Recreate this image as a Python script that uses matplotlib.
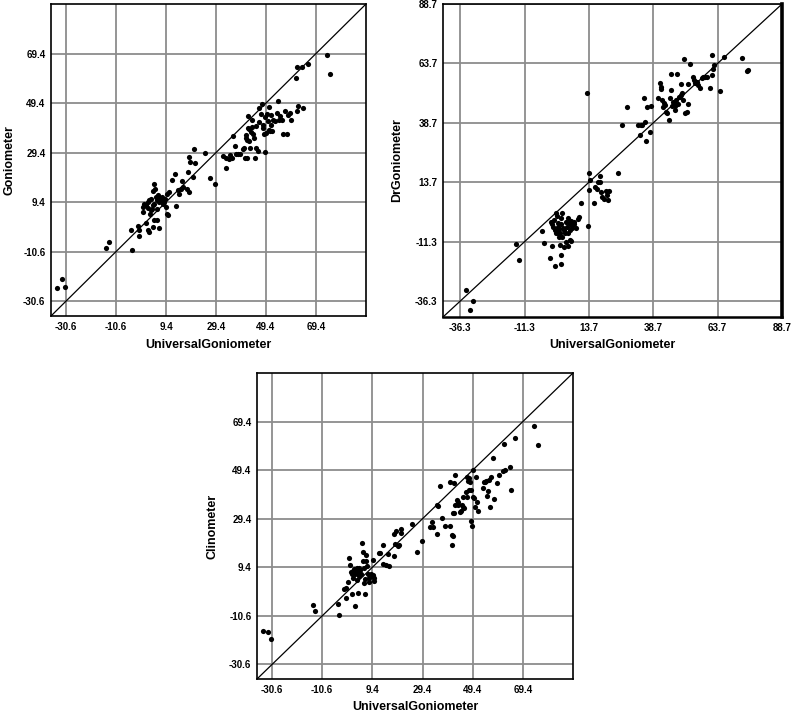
import matplotlib
matplotlib.use("Agg")
import matplotlib.pyplot as plt

# valori (UniversalGoniometer vs. celelalte instrumente)
gonio_x = [-34.3, -32.2, -31.1, -14.6, -13.5, -4.2, -4.6, -1.9, -1.5, -1.3,
           1.4, 2.1, 2.7, 4.1, 4.7, 5.7, 6.5, 0.1, 0.3, 0.7,
           1.4, 2.1, 2.3, 2.7, 3.0, 3.4, 3.8, 4.1, 4.3, 4.7,
           5.1, 5.4, 5.7, 6.1, 6.5, 6.7, 7.4, 7.8, 8.1, 8.7,
           9.1, 9.4, 9.7, 10.1, 9.8, 10.7, 5.7, 4.7, 3.4, 11.8,
           13.1, 13.4, 14.1, 14.7, 15.4, 15.8, 16.3, 17.7, 18.1, 18.5,
           18.7, 19.0, 20.1, 20.7, 21.1, 25.0, 27.0, 29.1, 33.4, 32.3,
           33.4, 34.5, 35.1, 35.7, 36.1, 37.1, 38.2, 39.0, 40.1, 40.7,
           41.1, 41.7, 42.1, 42.1, 42.5, 41.4, 41.7, 42.7, 43.0, 43.4,
           43.8, 44.3, 44.7, 45.0, 45.4, 46.5, 46.7, 47.4, 47.8, 48.1,
           48.3, 48.7, 49.0, 49.1, 49.4, 49.8, 50.1, 50.5, 50.7, 51.0,
           51.4, 51.8, 52.3, 53.1, 53.7, 54.3, 54.7, 55.1, 55.8, 56.3,
           57.7, 57.1, 58.1, 59.4, 59.1, 61.8, 62.1, 64.3, 61.4, 61.8,
           63.8, 66.2, 73.7, 75.1, 45.4, 46.1, 51.4, 37.4, 41.4, 43.8]
gonio_y = [-25.4, -21.5, -24.9, -9.3, -6.9, -9.8, -1.9, -0.2, -4.3, -1.9,
           1.0, -1.9, -2.6, -0.6, 2.3, 2.3, -1.0, 7.4, 5.4, 8.7,
           8.1, 7.1, 9.4, 10.1, 4.7, 10.7, 6.7, 8.1, 13.8, 16.7,
           14.7, 11.4, 10.1, 12.1, 11.1, 9.4, 10.3, 11.4, 8.5, 9.4,
           10.7, 7.4, 4.7, 4.1, 12.7, 13.4, 6.7, 8.5, 6.1, 18.5,
           20.7, 7.8, 14.3, 12.5, 14.7, 18.1, 15.4, 14.7, 21.4, 13.4,
           27.7, 25.7, 19.4, 30.7, 25.0, 29.4, 19.1, 16.7, 23.0, 27.9,
           27.1, 26.7, 28.5, 27.4, 36.1, 31.9, 29.0, 28.7, 30.7, 31.4,
           27.4, 27.4, 44.3, 39.4, 38.9, 35.4, 34.3, 34.1, 31.4, 37.8,
           39.7, 37.0, 35.4, 27.4, 40.1, 47.4, 41.8, 45.0, 49.1, 40.5,
           39.4, 36.7, 43.7, 29.7, 37.4, 45.1, 42.1, 47.7, 38.7, 38.1,
           44.7, 38.1, 42.7, 42.1, 45.4, 50.3, 42.7, 44.1, 42.7, 36.7,
           36.7, 46.1, 44.7, 42.7, 45.4, 46.3, 48.3, 47.4, 59.7, 64.1,
           64.1, 65.0, 68.7, 61.0, 31.4, 30.1, 40.7, 28.7, 36.4, 42.7]

drgonio_x = [-34.0, -31.4, -32.4, -14.8, -13.5, -4.4, -3.7, -1.4, -0.5, 0.4,
             2.5, 3.0, 2.8, 4.1, -1.1, -0.8, 0.2, 0.4, 0.8, 1.2,
             1.5, 1.7, 2.1, 2.5, 2.8, 3.0, 3.4, 3.8, 4.1, 4.3,
             4.7, 5.1, 5.4, 5.6, 6.0, 6.4, 6.7, 6.9, 7.3, 7.7,
             8.0, 8.6, 9.3, 9.9, 10.6, 6.4, 6.9, 4.7, 5.4, -0.1,
             0.8, 1.5, 3.4, 2.1, 13.2, 13.6, 13.8, 14.2, 15.5, 16.0,
             16.8, 17.3, 17.9, 18.1, 18.4, 18.6, 19.7, 20.3, 20.7, 21.0,
             21.3, 24.9, 12.8, 26.6, 28.5, 33.4, 33.8, 32.7, 34.3, 35.1,
             36.0, 36.4, 35.6, 37.3, 37.9, 40.5, 41.2, 41.6, 41.8, 42.1,
             42.5, 42.9, 43.4, 43.8, 44.2, 44.7, 45.1, 45.5, 45.7, 46.0,
             46.4, 46.8, 47.0, 47.3, 47.7, 48.1, 48.3, 48.6, 49.0, 49.4,
             49.6, 49.9, 50.3, 50.7, 50.9, 51.6, 52.0, 52.2, 52.9, 54.2,
             54.6, 54.8, 55.5, 56.1, 56.8, 57.5, 58.1, 58.8, 59.4, 60.7,
             61.4, 61.6, 62.0, 62.4, 64.6, 66.3, 73.1, 75.0, 75.3]
drgonio_y = [-31.7, -36.3, -40.1, -12.3, -19.0, -6.8, -12.0, -18.3, -13.0, -21.4,
             -12.7, -20.7, -16.9, -13.7, -2.9, -3.9, -2.2, -6.4, 0.6, -0.5,
             -3.3, -5.0, -6.1, -7.8, -1.5, -3.9, 0.6, -5.7, -6.4, -7.8,
             -2.9, -5.0, -1.5, -7.8, -3.6, -6.4, -4.3, -2.5, -5.7, -3.2,
             -3.9, -5.4, -1.9, -1.1, 4.8, -10.4, -10.9, -11.3, -13.2, -5.0,
             -7.5, -7.8, -9.2, -9.5, -4.6, 10.4, 17.7, 14.6, 4.8, 11.5,
             10.8, 13.9, 13.9, 16.4, 9.7, 7.6, 6.6, 10.1, 8.3, 6.2,
             10.1, 17.4, 51.1, 37.8, 45.2, 33.5, 37.8, 37.8, 37.8, 49.0,
             31.2, 45.2, 39.2, 34.7, 45.7, 49.0, 55.3, 53.6, 52.8, 48.3,
             45.2, 47.2, 46.2, 43.4, 42.7, 40.1, 49.0, 52.5, 59.2, 45.7,
             47.6, 46.9, 44.1, 45.7, 48.3, 59.2, 46.6, 49.7, 49.4, 54.9,
             50.4, 51.1, 48.3, 65.4, 42.9, 43.4, 54.9, 46.6, 63.3, 57.8,
             56.7, 55.3, 56.0, 54.6, 53.2, 57.4, 58.1, 57.8, 57.8, 53.2,
             58.8, 67.2, 61.2, 63.0, 52.2, 66.2, 65.9, 60.5, 60.9]

clino_x = [-34.1, -32.1, -31.0, -14.4, -13.3, -4.4, -4.0, 2.6, -2.1, -1.3,
           -1.1, 1.3, 3.6, 6.6, 0.0, 0.5, -0.4, 0.9, 1.3, 1.6,
           1.8, 2.2, 2.6, 2.9, 3.2, 3.4, 3.7, 4.0, 4.2, 4.5,
           4.9, 5.3, 5.6, 5.8, 6.0, 6.2, 6.5, 6.8, 6.9, 7.2,
           7.6, 8.0, 8.2, 8.9, 9.6, 9.8, 10.0, 10.2, 9.6, 12.0,
           12.5, 13.5, 13.5, 14.9, 15.9, 15.5, 18.2, 18.2, 18.9, 18.6,
           19.5, 20.2, 20.9, 21.0, 25.3, 27.1, 29.2, 32.4, 33.2, 33.5,
           35.1, 35.2, 35.5, 36.2, 37.1, 38.2, 40.4, 40.5, 41.1, 41.2,
           41.5, 41.7, 42.1, 42.4, 42.1, 42.5, 43.1, 43.5, 43.6, 44.4,
           44.8, 45.2, 45.5, 45.7, 46.1, 46.8, 47.1, 47.3, 47.6, 47.9,
           48.1, 48.4, 48.8, 49.2, 48.8, 49.5, 49.7, 50.1, 50.5, 50.8,
           51.0, 51.4, 53.4, 54.1, 54.4, 54.8, 55.0, 55.4, 55.8, 56.4,
           56.8, 57.4, 57.8, 59.2, 59.7, 61.4, 61.7, 62.4, 64.1, 64.7,
           66.3, 73.8, 75.4]
clino_y = [-16.7, -17.4, -20.1, -6.2, -8.8, -5.8, -10.2, -6.5, 0.3, 0.7,
           -3.1, -1.4, -1.0, -1.7, 13.3, 10.3, 3.5, 7.5, 6.5, 5.1,
           7.8, 8.8, 6.7, 7.8, 8.9, 4.0, 7.1, 5.8, 9.2, 8.1,
           6.7, 19.4, 11.9, 15.7, 9.2, 3.1, 4.4, 14.6, 11.9, 9.9,
           6.7, 3.5, 5.1, 6.7, 5.8, 6.2, 3.7, 4.8, 12.3, 15.3,
           15.3, 18.4, 10.8, 10.3, 9.9, 14.9, 14.0, 23.1, 24.4, 19.0,
           18.3, 18.7, 23.5, 25.3, 27.3, 15.7, 20.1, 26.1, 28.0, 26.1,
           23.1, 35.1, 34.5, 43.0, 29.9, 26.6, 26.6, 44.6, 22.5, 18.7,
           22.1, 31.7, 31.7, 47.6, 43.9, 35.1, 37.1, 35.1, 36.2, 32.3,
           32.6, 35.1, 34.4, 38.5, 33.7, 40.5, 38.5, 46.6, 44.9, 41.2,
           46.0, 44.6, 28.5, 26.6, 41.2, 38.5, 49.4, 38.1, 34.4, 46.6,
           36.4, 32.6, 41.9, 44.6, 44.6, 44.9, 38.9, 40.8, 45.3, 34.4,
           46.6, 54.4, 37.5, 44.3, 47.6, 49.0, 60.0, 49.4, 50.5, 41.2,
           62.6, 67.6, 59.6]

ticks_a = [-30.6, -10.6, 9.4, 29.4, 49.4, 69.4]
ticks_b = [-36.3, -11.3, 13.7, 38.7, 63.7, 88.7]
lim_a = (-36.6, 89.4)
lim_b = (-43.0, 88.7)

W, H = 792, 714
fig = plt.figure(figsize=(W / 100, H / 100), dpi=100)

tick_font = dict(family=["Liberation Sans", "DejaVu Sans"], weight="bold", size=7)
label_font = dict(family=["Liberation Sans", "DejaVu Sans"], weight="bold", size=9)


def panel(box, xs, ys, ticks, lim, ylabel, ylab_off, thick=False):
    l, t, r, b = box
    ax = fig.add_axes([l / W, 1 - b / H, (r - l) / W, (b - t) / H])
    ax.set_xlim(lim)
    ax.set_ylim(lim)
    ax.set_xticks(ticks)
    ax.set_yticks(ticks)
    ax.set_xticklabels([f"{v:.1f}" for v in ticks], **tick_font)
    ax.set_yticklabels([f"{v:.1f}" for v in ticks], **tick_font)
    ax.tick_params(length=0, pad=4)
    ax.grid(True, color="#8c8c8c", linewidth=1.3)
    ax.set_axisbelow(True)
    ax.axline((0, 0), slope=1, color="black", linewidth=0.9, zorder=2)
    ax.scatter(xs, ys, s=14, color="black", linewidths=0, zorder=3)
    for sp in ax.spines.values():
        sp.set_linewidth(1.2)
    if thick:
        ax.spines["right"].set_linewidth(2.6)
        ax.spines["bottom"].set_linewidth(1.8)
    ax.set_xlabel("UniversalGoniometer", labelpad=5, **label_font)
    ax.set_ylabel(ylabel, **label_font)
    ax.yaxis.set_label_coords(-ylab_off / (r - l), 0.5)
    ax.yaxis.label.set_va("center")
    return ax


panel((51, 4, 366, 316), gonio_x, gonio_y, ticks_a, lim_a, "Goniometer", 41)
panel((443, 4, 782, 317), drgonio_x, drgonio_y, ticks_b, lim_b, "DrGoniometer", 46, thick=True)
panel((257, 373, 573, 679), clino_x, clino_y, ticks_a, lim_a, "Clinometer", 44)

fig.savefig("out.png", dpi=100)
